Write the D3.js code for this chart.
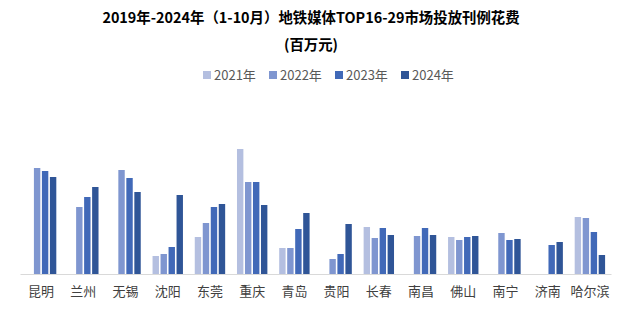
<!DOCTYPE html>
<html><head><meta charset="utf-8">
<script src="https://cdn.jsdelivr.net/npm/d3@7"></script>
<style>body{margin:0;background:#fff;}svg{display:block;font-family:"Noto Sans CJK SC","Noto Sans",sans-serif;}</style>
</head><body><svg id="c" width="622" height="328"></svg>
<script>
const cities = ["昆明","兰州","无锡","沈阳","东莞","重庆","青岛","贵阳","长春","南昌","佛山","南宁","济南","哈尔滨"];
const years = ["2021年","2022年","2023年","2024年"];
const v2021 = [null,null,null,18,37,125,26,null,47,null,37,null,null,57];
const v2022 = [106,67,104,20,51,92,26,15,36,38,34,41,null,56];
const v2023 = [103,77,96,27,67,92,45,20,46,46,37,34,29,42];
const v2024 = [97,87,82,79,70,69,61,50,39,39,38,35,32,19];
const seriesVals = [v2021,v2022,v2023,v2024];
const colors = ["#b4bfe0","#7f96d0","#4169b8","#2f5597"];

const svg = d3.select("#c");
const x0 = d3.scaleBand().domain(cities).range([20,611]).padding(0);
const bw = x0.bandwidth();
const x1 = d3.scaleBand().domain(years).range([bw*0.14, bw*0.86]).paddingInner(0.2).paddingOuter(0);
const y = d3.scaleLinear().domain([0,125]).range([274,149]);

const g = svg.append("g");
years.forEach((yr,i)=>{
  g.selectAll(null).data(cities.map((c,j)=>({c,v:seriesVals[i][j]})).filter(d=>d.v!=null))
   .enter().append("rect")
   .attr("x",d=>x0(d.c)+x1(yr))
   .attr("y",d=>y(d.v))
   .attr("width",x1.bandwidth())
   .attr("height",d=>y(0)-y(d.v))
   .attr("fill",colors[i]);
});

const ax = svg.append("g").attr("transform","translate(0,274)")
  .call(d3.axisBottom(x0).tickSize(0).tickPadding(13));
ax.select(".domain").attr("stroke","#d9d9d9").attr("stroke-width",1);
ax.selectAll("text").attr("font-size",13).attr("fill","#404040").attr("font-family",'"Noto Sans CJK SC",sans-serif');

svg.append("text").attr("x",311).attr("y",23).attr("text-anchor","middle")
  .attr("font-size",14.4).attr("font-weight","bold").attr("fill","#000")
  .text("2019年-2024年（1-10月）地铁媒体TOP16-29市场投放刊例花费");
svg.append("text").attr("x",311).attr("y",50).attr("text-anchor","middle")
  .attr("font-size",14.4).attr("font-weight","bold").attr("fill","#000")
  .text("(百万元)");

const lg = svg.append("g");
years.forEach((yr,i)=>{
  const lx = 203 + i*66;
  lg.append("rect").attr("x",lx).attr("y",71).attr("width",8).attr("height",8).attr("fill",colors[i]);
  lg.append("text").attr("x",lx+11).attr("y",80).attr("font-size",13).attr("fill","#595959").text(yr);
});
</script></body></html>
